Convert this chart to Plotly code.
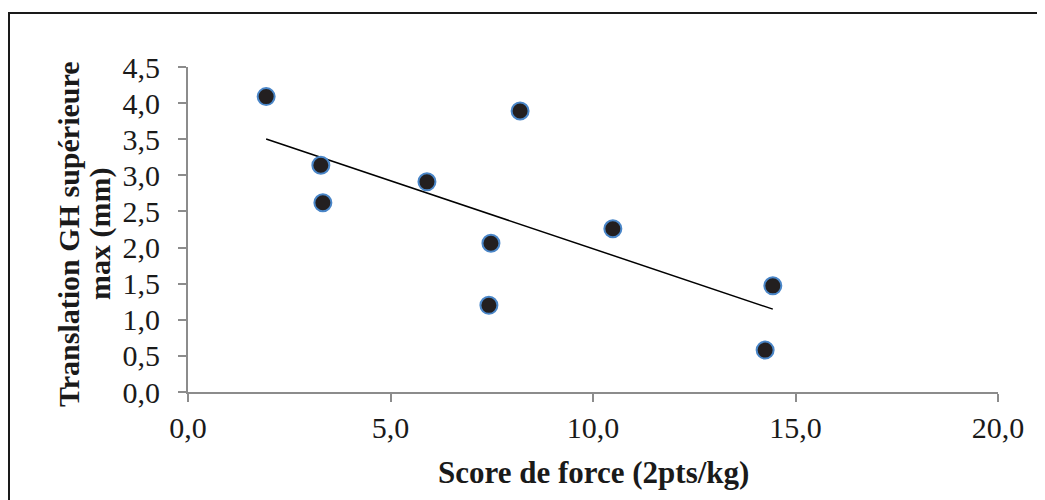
import numpy as np
import plotly.graph_objects as go

score_force = [1.93, 3.28, 3.33, 5.90, 7.48, 7.43, 8.20, 10.49, 14.44, 14.25]
translation_gh = [4.09, 3.14, 2.62, 2.91, 2.06, 1.20, 3.89, 2.26, 1.47, 0.58]

x_ticks = [0, 5, 10, 15, 20]
x_tick_labels = ["0,0", "5,0", "10,0", "15,0", "20,0"]
y_ticks = [0, 0.5, 1, 1.5, 2, 2.5, 3, 3.5, 4, 4.5]
y_tick_labels = ["0,0", "0,5", "1,0", "1,5", "2,0", "2,5", "3,0", "3,5", "4,0", "4,5"]

x_title = "Score de force (2pts/kg)"
y_title_lines = ["Translation GH supérieure", "max (mm)"]

slope, intercept = np.polyfit(score_force, translation_gh, 1)
trend_x = [min(score_force), max(score_force)]
trend_y = [slope * v + intercept for v in trend_x]

fig = go.Figure()
fig.add_trace(go.Scatter(
    x=trend_x, y=trend_y, mode="lines",
    line=dict(color="#000000", width=1.5), hoverinfo="skip", showlegend=False))
fig.add_trace(go.Scatter(
    x=score_force, y=translation_gh, mode="markers",
    marker=dict(size=17, color="#231f20", line=dict(color="#4a86c8", width=2)),
    showlegend=False))

font_family = "Liberation Serif, Times New Roman, serif"
axis_color = "#8c8c8c"

# figure is offset by 8px body margin in the page
L, R, T, B = 180, 55, 59, 116
plot_w = 1045 - L - R
plot_h = 500 - T - B

def px_to_paper_x(px):
    return (px - 8 - L) / plot_w

def px_to_paper_y(py):
    return (500 - B - (py - 8)) / plot_h

annotations = [
    dict(text="<b>%s</b>" % x_title, xref="paper", yref="paper",
         x=0.5, y=px_to_paper_y(472), xanchor="center", yanchor="middle",
         showarrow=False, font=dict(size=31, family=font_family, color="#1a1a1a")),
    dict(text="<b>%s</b>" % y_title_lines[0], xref="paper", yref="paper",
         x=px_to_paper_x(68), y=px_to_paper_y(234), xanchor="center", yanchor="middle",
         textangle=-90, showarrow=False, font=dict(size=30, family=font_family, color="#1a1a1a")),
    dict(text="<b>%s</b>" % y_title_lines[1], xref="paper", yref="paper",
         x=px_to_paper_x(100), y=px_to_paper_y(234), xanchor="center", yanchor="middle",
         textangle=-90, showarrow=False, font=dict(size=30, family=font_family, color="#1a1a1a")),
]

fig.update_layout(
    width=1045, height=500,
    margin=dict(l=L, r=R, t=T, b=B),
    paper_bgcolor="white", plot_bgcolor="white",
    font=dict(family=font_family, color="#1a1a1a"),
    xaxis=dict(
        range=[0, 20], tickvals=x_ticks, ticktext=x_tick_labels,
        showgrid=False, zeroline=False, showline=True, linecolor=axis_color, linewidth=2,
        ticks="outside", ticklen=8, tickcolor=axis_color, tickwidth=1.5,
        tickfont=dict(size=30, family=font_family),
    ),
    yaxis=dict(
        range=[0, 4.5], tickvals=y_ticks, ticktext=y_tick_labels,
        showgrid=False, zeroline=False, showline=True, linecolor=axis_color, linewidth=2,
        ticks="outside", ticklen=8, tickcolor=axis_color, tickwidth=1.5,
        tickfont=dict(size=30, family=font_family), ticklabelstandoff=12,
    ),
    annotations=annotations,
    shapes=[dict(type="rect", xref="paper", yref="paper",
                 x0=px_to_paper_x(9), x1=1.3, y0=-0.6, y1=px_to_paper_y(13),
                 line=dict(color="#1a1a1a", width=2), layer="below")],
)

fig.write_html("out.html")
